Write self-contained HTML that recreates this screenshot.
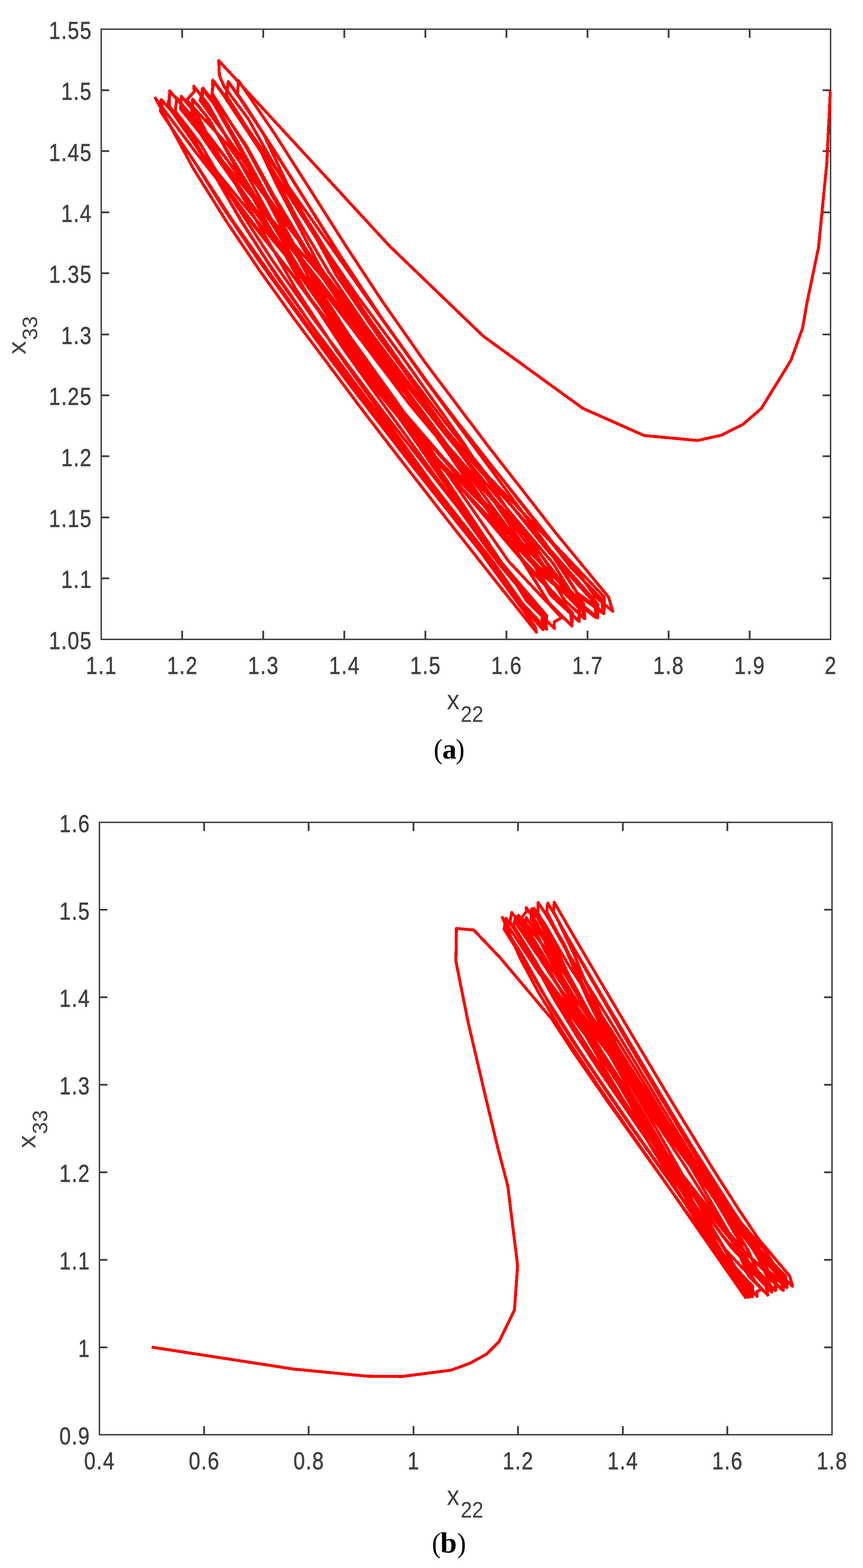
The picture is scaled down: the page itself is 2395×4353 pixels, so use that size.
<!DOCTYPE html>
<html lang="en">
<head>
<meta charset="utf-8">
<title>Phase portraits of x22 and x33</title>
<style>
html,body{margin:0;padding:0;background:#fff;}
body{width:2395px;height:4353px;overflow:hidden;}
svg{display:block;}
</style>
</head>
<body>
<svg width="2395" height="4353" viewBox="0 0 2395 4353" font-family="'Liberation Sans', Arial, sans-serif" fill="#404040">
<rect width="2395" height="4353" fill="#fff"/>
<g id="axes-a">
<rect x="281" y="81" width="2024" height="1694" fill="none" stroke="#404040" stroke-width="4"/>
<rect x="503" y="1751" width="5" height="24" stroke="none"/>
<rect x="503" y="81" width="5" height="24" stroke="none"/>
<rect x="728" y="1751" width="5" height="24" stroke="none"/>
<rect x="728" y="81" width="5" height="24" stroke="none"/>
<rect x="953" y="1751" width="5" height="24" stroke="none"/>
<rect x="953" y="81" width="5" height="24" stroke="none"/>
<rect x="1178" y="1751" width="5" height="24" stroke="none"/>
<rect x="1178" y="81" width="5" height="24" stroke="none"/>
<rect x="1403" y="1751" width="5" height="24" stroke="none"/>
<rect x="1403" y="81" width="5" height="24" stroke="none"/>
<rect x="1628" y="1751" width="5" height="24" stroke="none"/>
<rect x="1628" y="81" width="5" height="24" stroke="none"/>
<rect x="1853" y="1751" width="5" height="24" stroke="none"/>
<rect x="1853" y="81" width="5" height="24" stroke="none"/>
<rect x="2078" y="1751" width="5" height="24" stroke="none"/>
<rect x="2078" y="81" width="5" height="24" stroke="none"/>
<rect x="281" y="1603" width="22" height="5" stroke="none"/>
<rect x="2283" y="1603" width="22" height="5" stroke="none"/>
<rect x="281" y="1434" width="22" height="5" stroke="none"/>
<rect x="2283" y="1434" width="22" height="5" stroke="none"/>
<rect x="281" y="1264" width="22" height="5" stroke="none"/>
<rect x="2283" y="1264" width="22" height="5" stroke="none"/>
<rect x="281" y="1095" width="22" height="5" stroke="none"/>
<rect x="2283" y="1095" width="22" height="5" stroke="none"/>
<rect x="281" y="926" width="22" height="5" stroke="none"/>
<rect x="2283" y="926" width="22" height="5" stroke="none"/>
<rect x="281" y="756" width="22" height="5" stroke="none"/>
<rect x="2283" y="756" width="22" height="5" stroke="none"/>
<rect x="281" y="587" width="22" height="5" stroke="none"/>
<rect x="2283" y="587" width="22" height="5" stroke="none"/>
<rect x="281" y="417" width="22" height="5" stroke="none"/>
<rect x="2283" y="417" width="22" height="5" stroke="none"/>
<rect x="281" y="248" width="22" height="5" stroke="none"/>
<rect x="2283" y="248" width="22" height="5" stroke="none"/>
<text transform="translate(281.65,1871.00) scale(1,1.21)" font-size="57.0" letter-spacing="2.3" text-anchor="middle" stroke="#404040" stroke-width="0.8" >1.1</text>
<text transform="translate(506.54,1871.00) scale(1,1.21)" font-size="57.0" letter-spacing="2.3" text-anchor="middle" stroke="#404040" stroke-width="0.8" >1.2</text>
<text transform="translate(731.43,1871.00) scale(1,1.21)" font-size="57.0" letter-spacing="2.3" text-anchor="middle" stroke="#404040" stroke-width="0.8" >1.3</text>
<text transform="translate(956.32,1871.00) scale(1,1.21)" font-size="57.0" letter-spacing="2.3" text-anchor="middle" stroke="#404040" stroke-width="0.8" >1.4</text>
<text transform="translate(1181.21,1871.00) scale(1,1.21)" font-size="57.0" letter-spacing="2.3" text-anchor="middle" stroke="#404040" stroke-width="0.8" >1.5</text>
<text transform="translate(1406.09,1871.00) scale(1,1.21)" font-size="57.0" letter-spacing="2.3" text-anchor="middle" stroke="#404040" stroke-width="0.8" >1.6</text>
<text transform="translate(1630.98,1871.00) scale(1,1.21)" font-size="57.0" letter-spacing="2.3" text-anchor="middle" stroke="#404040" stroke-width="0.8" >1.7</text>
<text transform="translate(1855.87,1871.00) scale(1,1.21)" font-size="57.0" letter-spacing="2.3" text-anchor="middle" stroke="#404040" stroke-width="0.8" >1.8</text>
<text transform="translate(2080.76,1871.00) scale(1,1.21)" font-size="57.0" letter-spacing="2.3" text-anchor="middle" stroke="#404040" stroke-width="0.8" >1.9</text>
<text transform="translate(2305.65,1871.00) scale(1,1.21)" font-size="57.0" letter-spacing="2.3" text-anchor="middle" stroke="#404040" stroke-width="0.8" >2</text>
<text transform="translate(255.80,1801.70) scale(1,1.21)" font-size="57.0" letter-spacing="2.3" text-anchor="end" stroke="#404040" stroke-width="0.8" >1.05</text>
<text transform="translate(255.80,1632.30) scale(1,1.21)" font-size="57.0" letter-spacing="2.3" text-anchor="end" stroke="#404040" stroke-width="0.8" >1.1</text>
<text transform="translate(255.80,1462.90) scale(1,1.21)" font-size="57.0" letter-spacing="2.3" text-anchor="end" stroke="#404040" stroke-width="0.8" >1.15</text>
<text transform="translate(255.80,1293.50) scale(1,1.21)" font-size="57.0" letter-spacing="2.3" text-anchor="end" stroke="#404040" stroke-width="0.8" >1.2</text>
<text transform="translate(255.80,1124.10) scale(1,1.21)" font-size="57.0" letter-spacing="2.3" text-anchor="end" stroke="#404040" stroke-width="0.8" >1.25</text>
<text transform="translate(255.80,954.70) scale(1,1.21)" font-size="57.0" letter-spacing="2.3" text-anchor="end" stroke="#404040" stroke-width="0.8" >1.3</text>
<text transform="translate(255.80,785.30) scale(1,1.21)" font-size="57.0" letter-spacing="2.3" text-anchor="end" stroke="#404040" stroke-width="0.8" >1.35</text>
<text transform="translate(255.80,615.90) scale(1,1.21)" font-size="57.0" letter-spacing="2.3" text-anchor="end" stroke="#404040" stroke-width="0.8" >1.4</text>
<text transform="translate(255.80,446.50) scale(1,1.21)" font-size="57.0" letter-spacing="2.3" text-anchor="end" stroke="#404040" stroke-width="0.8" >1.45</text>
<text transform="translate(255.80,277.10) scale(1,1.21)" font-size="57.0" letter-spacing="2.3" text-anchor="end" stroke="#404040" stroke-width="0.8" >1.5</text>
<text transform="translate(255.80,107.70) scale(1,1.21)" font-size="57.0" letter-spacing="2.3" text-anchor="end" stroke="#404040" stroke-width="0.8" >1.55</text>
</g>
<g id="axes-b">
<rect x="276" y="2283" width="2033" height="1700" fill="none" stroke="#404040" stroke-width="4"/>
<rect x="564" y="3959" width="5" height="24" stroke="none"/>
<rect x="564" y="2283" width="5" height="24" stroke="none"/>
<rect x="854" y="3959" width="5" height="24" stroke="none"/>
<rect x="854" y="2283" width="5" height="24" stroke="none"/>
<rect x="1145" y="3959" width="5" height="24" stroke="none"/>
<rect x="1145" y="2283" width="5" height="24" stroke="none"/>
<rect x="1435" y="3959" width="5" height="24" stroke="none"/>
<rect x="1435" y="2283" width="5" height="24" stroke="none"/>
<rect x="1726" y="3959" width="5" height="24" stroke="none"/>
<rect x="1726" y="2283" width="5" height="24" stroke="none"/>
<rect x="2016" y="3959" width="5" height="24" stroke="none"/>
<rect x="2016" y="2283" width="5" height="24" stroke="none"/>
<rect x="276" y="3738" width="22" height="5" stroke="none"/>
<rect x="2287" y="3738" width="22" height="5" stroke="none"/>
<rect x="276" y="3495" width="22" height="5" stroke="none"/>
<rect x="2287" y="3495" width="22" height="5" stroke="none"/>
<rect x="276" y="3252" width="22" height="5" stroke="none"/>
<rect x="2287" y="3252" width="22" height="5" stroke="none"/>
<rect x="276" y="3009" width="22" height="5" stroke="none"/>
<rect x="2287" y="3009" width="22" height="5" stroke="none"/>
<rect x="276" y="2766" width="22" height="5" stroke="none"/>
<rect x="2287" y="2766" width="22" height="5" stroke="none"/>
<rect x="276" y="2523" width="22" height="5" stroke="none"/>
<rect x="2287" y="2523" width="22" height="5" stroke="none"/>
<text transform="translate(276.65,4079.00) scale(1,1.21)" font-size="57.0" letter-spacing="2.3" text-anchor="middle" stroke="#404040" stroke-width="0.8" >0.4</text>
<text transform="translate(567.08,4079.00) scale(1,1.21)" font-size="57.0" letter-spacing="2.3" text-anchor="middle" stroke="#404040" stroke-width="0.8" >0.6</text>
<text transform="translate(857.51,4079.00) scale(1,1.21)" font-size="57.0" letter-spacing="2.3" text-anchor="middle" stroke="#404040" stroke-width="0.8" >0.8</text>
<text transform="translate(1147.94,4079.00) scale(1,1.21)" font-size="57.0" letter-spacing="2.3" text-anchor="middle" stroke="#404040" stroke-width="0.8" >1</text>
<text transform="translate(1438.36,4079.00) scale(1,1.21)" font-size="57.0" letter-spacing="2.3" text-anchor="middle" stroke="#404040" stroke-width="0.8" >1.2</text>
<text transform="translate(1728.79,4079.00) scale(1,1.21)" font-size="57.0" letter-spacing="2.3" text-anchor="middle" stroke="#404040" stroke-width="0.8" >1.4</text>
<text transform="translate(2019.22,4079.00) scale(1,1.21)" font-size="57.0" letter-spacing="2.3" text-anchor="middle" stroke="#404040" stroke-width="0.8" >1.6</text>
<text transform="translate(2309.65,4079.00) scale(1,1.21)" font-size="57.0" letter-spacing="2.3" text-anchor="middle" stroke="#404040" stroke-width="0.8" >1.8</text>
<text transform="translate(250.80,4009.70) scale(1,1.21)" font-size="57.0" letter-spacing="2.3" text-anchor="end" stroke="#404040" stroke-width="0.8" >0.9</text>
<text transform="translate(250.80,3766.84) scale(1,1.21)" font-size="57.0" letter-spacing="2.3" text-anchor="end" stroke="#404040" stroke-width="0.8" >1</text>
<text transform="translate(250.80,3523.99) scale(1,1.21)" font-size="57.0" letter-spacing="2.3" text-anchor="end" stroke="#404040" stroke-width="0.8" >1.1</text>
<text transform="translate(250.80,3281.13) scale(1,1.21)" font-size="57.0" letter-spacing="2.3" text-anchor="end" stroke="#404040" stroke-width="0.8" >1.2</text>
<text transform="translate(250.80,3038.27) scale(1,1.21)" font-size="57.0" letter-spacing="2.3" text-anchor="end" stroke="#404040" stroke-width="0.8" >1.3</text>
<text transform="translate(250.80,2795.41) scale(1,1.21)" font-size="57.0" letter-spacing="2.3" text-anchor="end" stroke="#404040" stroke-width="0.8" >1.4</text>
<text transform="translate(250.80,2552.56) scale(1,1.21)" font-size="57.0" letter-spacing="2.3" text-anchor="end" stroke="#404040" stroke-width="0.8" >1.5</text>
<text transform="translate(250.80,2309.70) scale(1,1.21)" font-size="57.0" letter-spacing="2.3" text-anchor="end" stroke="#404040" stroke-width="0.8" >1.6</text>
</g>
<defs><clipPath id="clipA"><rect x="279" y="79" width="2028.6" height="1698"/></clipPath><clipPath id="clipB"><rect x="274" y="2281" width="2037.6" height="1704"/></clipPath></defs>
<g id="curves" fill="none" stroke="#ff0000" stroke-width="8.2" shape-rendering="crispEdges" stroke-linejoin="round" stroke-linecap="butt">
<polyline points="2304.5,250.0 2294.5,454.0 2271.7,686.0 2237.7,850.0 2227.4,911.0 2194.7,1001.0 2112.8,1134.0 2062.0,1178.0 2002.0,1208.2 1935.8,1222.9 1787.5,1209.0 1617.3,1133.5 1341.6,933.6 1082.0,684.0 606.9,168.0 608.9,210.0 621.9,240.0 689.2,330.5 801.4,529.1 911.9,705.5 988.9,817.9 1106.1,976.5 1284.8,1227.6 1359.9,1341.6 1474.0,1513.6 1566.5,1666.6 1623.3,1717.1 1619.3,1674.7 1489.4,1552.3 1318.8,1379.7 1207.6,1268.6 1029.8,1062.6 898.9,878.1 803.8,751.8 662.5,574.0 543.6,423.2 431.2,272.4 536.6,468.2 628.4,614.9 719.7,749.7 817.3,886.3 1000.3,1131.1 1096.0,1255.8 1241.4,1443.0 1382.2,1621.8 1488.8,1755.2 1484.8,1739.2 1350.3,1555.0 1258.3,1425.6 1105.7,1212.7 991.7,1055.5 930.5,969.5 821.3,802.9 721.8,630.6 585.6,392.3 549.6,322.8 503.2,267.5 501.1,302.5 607.3,434.4 725.2,577.3 859.9,728.0 1008.9,909.0 1131.3,1072.0 1294.5,1260.2 1422.8,1393.4 1592.0,1571.0 1651.0,1655.6 1700.5,1697.0 1688.9,1657.8 1542.6,1479.9 1440.7,1348.9 1352.9,1236.3 1180.0,1006.5 1059.5,834.4 956.9,678.2 874.9,548.8 763.0,372.7 662.0,224.1 659.0,260.1 732.5,374.7 800.6,518.6 932.9,763.3 1054.9,940.7 1111.0,1015.6 1278.2,1250.3 1361.8,1377.5 1454.8,1517.8 1527.5,1651.6 1606.3,1724.5 1607.4,1681.8 1511.1,1600.5 1303.6,1378.7 1188.0,1257.6 1012.5,1044.5 891.5,873.1 807.9,759.0 653.2,554.7 583.5,462.0 476.6,309.0 447.7,276.6 445.3,308.9 544.7,456.9 617.5,574.1 718.8,724.2 894.4,966.6 976.1,1075.5 1149.8,1300.3 1272.6,1455.4 1361.2,1566.4 1451.5,1686.8 1506.8,1747.8 1503.6,1707.4 1382.9,1563.5 1247.6,1362.9 1163.0,1238.8 1052.0,1081.3 917.5,891.0 844.6,773.9 748.5,599.7 618.8,363.8 577.6,290.1 537.7,239.3 539.1,254.1 517.9,278.0 630.2,400.1 757.5,575.9 840.8,682.1 1010.8,901.1 1134.4,1065.8 1219.6,1172.1 1404.3,1386.6 1530.7,1531.1 1606.8,1654.1 1675.1,1703.4 1669.1,1662.3 1585.0,1576.5 1412.2,1353.8 1263.0,1163.2 1192.9,1070.2 1062.7,888.2 946.2,712.6 860.5,576.6 756.0,409.6 676.2,285.3 633.4,226.6 628.5,264.6 726.9,426.7 771.0,519.4 888.9,741.9 1009.6,923.4 1100.6,1044.9 1213.6,1201.1 1365.1,1427.3 1440.1,1538.2 1528.2,1681.6 1587.3,1737.2 1582.7,1696.2 1472.6,1583.4 1292.7,1370.8 1186.5,1246.1 1027.8,1042.7 960.1,947.4 835.1,768.5 698.0,574.3 566.8,387.8 502.9,289.4 472.9,255.4 466.4,288.6 577.8,456.9 677.1,624.6 741.2,724.5 861.2,897.9 1022.0,1112.8 1135.3,1260.5 1275.6,1441.3 1369.0,1560.3 1449.8,1675.4 1517.4,1746.8 1510.4,1704.9 1408.3,1585.7 1297.3,1423.9 1186.2,1263.4 1035.2,1052.0 972.9,964.3 874.4,817.2 720.5,564.7 625.5,409.3 570.0,318.6 536.6,277.0 532.4,318.5 648.2,466.9 768.9,630.7 878.9,770.3 991.2,916.3 1096.3,1056.9 1228.7,1222.0 1355.2,1367.2 1480.0,1507.6 1573.8,1650.4 1656.1,1715.0 1649.0,1672.9 1516.5,1524.9 1365.8,1336.6 1236.5,1174.2 1113.8,1010.9 1021.7,880.2 949.0,772.1 796.3,534.4 727.3,425.9 619.5,263.0 590.6,222.4 588.9,259.6 682.2,406.8 758.1,548.0 852.3,707.8 1006.9,933.8 1101.2,1059.3 1242.4,1255.7 1328.4,1380.8 1434.5,1533.9 1523.7,1673.8 1587.0,1737.6 1588.9,1701.8 1436.7,1539.2 1299.6,1376.7 1230.0,1294.6 1054.7,1073.1 924.2,888.4 866.3,805.7 738.0,623.4 625.5,462.9 534.3,325.8 490.5,271.7 486.2,308.4 555.4,398.2 654.2,566.8 759.4,727.9 869.6,884.5 1057.8,1136.1 1174.3,1286.4 1242.7,1373.5 1402.8,1575.2 1461.9,1668.6 1538.6,1744.7 1537.6,1726.7 1558.6,1714.7 1411.6,1558.5 1300.0,1397.9 1199.2,1253.9 1093.9,1106.0 968.3,930.4 876.2,786.9 760.2,577.5 659.9,395.0 597.8,289.2 563.5,244.9 555.4,278.7 673.9,441.7 755.1,563.8 901.1,765.4 1008.7,910.3 1116.9,1054.7 1240.2,1211.1 1383.7,1384.0 1535.7,1565.0 1596.8,1663.8 1658.6,1714.8 1658.4,1676.2 1525.4,1525.0 1450.1,1422.0 1302.8,1222.6 1182.8,1059.2 1037.1,852.9 926.8,683.7 858.6,574.6 722.8,358.6 666.3,274.3 633.4,227.1 627.3,263.8 724.1,414.2 821.3,600.8 912.8,755.7 1016.6,907.0 1143.9,1076.6 1252.8,1223.7 1339.3,1342.6 1495.4,1554.7 1568.9,1668.6 1621.4,1717.2 1611.8,1675.4 1523.2,1588.5 1312.0,1358.7 1227.5,1268.2 1104.0,1124.8 929.9,883.7 861.4,793.3 677.1,569.1 562.3,428.6 477.4,309.0 448.5,278.4 450.0,316.1 555.6,473.4 643.3,609.2 770.2,789.4 845.4,892.1 1014.3,1117.9 1154.4,1297.3 1215.3,1373.7 1364.8,1559.4 1437.4,1664.8 1515.0,1745.6 1517.0,1709.2 1392.6,1562.6 1272.5,1382.4 1184.7,1251.9 1071.7,1090.1 954.0,925.2 854.3,765.9 761.3,592.8 691.5,459.7 592.6,287.0 561.0,246.8 562.7,282.9 666.0,433.1 778.6,597.4 890.3,748.0 999.5,893.8 1119.2,1053.7 1263.7,1229.7 1426.0,1411.9 1504.2,1499.1 1600.6,1644.9 1676.3,1700.7 1677.0,1657.5 1536.7,1509.7 1449.3,1399.2 1313.3,1228.8 1193.5,1073.2 1050.9,873.6 955.7,737.7 846.5,583.3 700.5,376.2 631.8,277.1 593.5,225.2 587.7,264.2 684.2,405.5 758.1,539.9 855.1,701.1 952.6,846.8 1106.9,1054.7 1222.1,1209.6 1327.8,1354.6 1463.6,1539.4 1543.9,1664.6 1607.2,1725.2 1608.4,1689.8 1469.1,1546.2 1337.4,1396.9 1163.3,1199.3 1037.7,1038.6 941.5,902.3 831.1,747.6 695.3,562.4 567.7,387.2 518.7,307.3 470.8,252.5 469.9,294.1 544.5,397.7 666.9,610.1 770.3,770.7 906.8,962.2 1022.0,1115.1 1100.6,1218.8 1221.7,1378.3 1353.3,1550.0 1441.7,1674.5 1507.0,1745.2 1507.0,1702.6 1365.1,1540.6 1287.8,1432.6 1163.8,1260.5 1024.9,1069.1 953.9,969.5 847.4,807.0 715.6,573.7 654.9,464.8 580.7,332.0 534.7,275.5 532.1,314.2 625.4,436.4 737.2,596.9 836.1,726.7 984.8,921.9 1135.3,1120.9 1222.8,1226.0 1374.5,1396.1 1479.4,1512.0 1605.0,1676.0 1653.3,1714.8" clip-path="url(#clipA)"/>
<polyline points="421.0,3739.9 814.7,3800.7 1017.3,3820.4 1114.7,3821.5 1251.2,3803.9 1305.2,3784.1 1351.1,3758.7 1384.6,3725.2 1427.7,3637.0 1436.5,3513.5 1409.2,3292.2 1380.7,3183.5 1348.1,3047.6 1299.2,2838.4 1265.2,2668.5 1266.6,2577.5 1314.6,2581.8 1386.5,2657.2 1530.5,2828.0 1591.3,2920.9 1687.7,3060.2 1798.0,3215.0 1908.6,3369.8 2018.7,3524.6 2053.8,3574.9 2075.8,3601.9 2074.9,3572.3 1978.3,3463.0 1897.2,3333.9 1864.7,3279.9 1776.9,3132.6 1686.9,2981.8 1631.7,2885.7 1557.0,2751.7 1522.9,2690.4 1467.4,2580.8 1439.0,2541.2 1435.0,2568.0 1501.4,2665.5 1550.9,2739.6 1644.3,2864.7 1731.7,2982.5 1843.8,3143.0 1927.2,3246.1 1989.3,3317.1 2123.3,3471.5 2167.2,3541.1 2199.2,3570.8 2191.7,3542.7 2105.2,3439.9 2049.8,3357.2 1980.5,3248.7 1871.4,3070.3 1829.1,2999.6 1759.1,2881.9 1657.8,2710.6 1593.6,2601.1 1538.0,2504.7 1536.1,2530.5 1589.7,2641.1 1625.2,2727.4 1710.2,2900.9 1772.9,3001.0 1866.4,3136.8 1937.7,3250.7 1983.2,3328.3 2056.3,3453.4 2088.1,3531.8 2142.1,3587.0 2135.9,3562.2 2075.1,3500.6 1948.9,3342.3 1880.7,3252.9 1803.8,3140.2 1711.5,2987.4 1649.7,2896.0 1574.6,2794.6 1483.1,2671.1 1426.4,2576.9 1404.4,2549.5 1399.0,2579.5 1471.2,2694.4 1504.0,2752.5 1611.1,2920.8 1669.8,3007.3 1760.5,3138.5 1813.7,3214.7 1895.9,3332.6 1982.2,3457.0 2050.1,3560.0 2081.7,3600.1 2076.1,3570.3 2002.5,3487.5 1927.3,3367.1 1849.9,3235.2 1769.6,3099.1 1727.5,3028.8 1636.8,2865.0 1575.6,2741.7 1513.6,2617.7 1490.5,2563.6 1460.4,2519.6 1461.3,2530.3 1447.7,2547.4 1510.9,2630.0 1592.0,2764.6 1685.7,2901.9 1738.4,2977.7 1847.6,3134.8 1915.0,3224.5 1993.3,3324.2 2084.5,3440.3 2130.2,3530.9 2183.8,3574.5 2176.9,3549.0 2111.8,3475.6 2037.3,3366.2 1920.6,3182.6 1868.6,3097.2 1803.7,2988.9 1741.0,2883.5 1656.5,2740.9 1577.8,2607.1 1547.1,2552.0 1520.1,2507.4 1517.3,2530.8 1568.0,2631.0 1632.4,2777.7 1667.4,2847.6 1765.1,3009.4 1855.8,3141.2 1916.2,3237.8 1993.0,3370.9 2034.3,3442.7 2077.8,3542.6 2130.7,3595.3 2124.5,3564.9 2011.7,3438.1 1933.0,3331.9 1845.5,3206.6 1794.2,3126.2 1722.4,3006.5 1638.1,2872.7 1572.4,2773.7 1504.1,2670.3 1441.9,2561.2 1420.1,2533.4 1415.3,2559.0 1478.2,2664.7 1537.8,2773.5 1603.1,2879.9 1668.7,2979.6 1757.6,3108.8 1861.9,3261.7 1944.0,3385.6 1998.3,3467.6 2033.5,3530.1 2088.1,3599.7 2088.9,3570.4 2009.1,3487.7 1922.9,3349.1 1872.6,3263.4 1795.9,3133.0 1713.9,2995.8 1650.2,2885.3 1600.9,2797.7 1511.3,2637.6 1486.6,2585.3 1460.0,2547.0 1458.3,2570.0 1524.2,2678.4 1587.9,2776.8 1685.9,2913.4 1758.9,3016.6 1846.9,3143.4 1907.8,3226.8 2008.2,3359.4 2097.6,3478.4 2128.3,3543.5 2172.3,3582.0 2168.4,3551.6 2059.8,3424.6 1982.0,3307.0 1926.5,3219.3 1853.7,3100.4 1798.7,3008.7 1698.2,2843.1 1620.1,2716.9 1567.3,2630.8 1522.7,2550.6 1493.4,2505.7 1492.7,2533.9 1545.3,2635.8 1604.1,2763.9 1658.8,2867.8 1741.5,3001.1 1829.3,3128.1 1901.5,3237.7 1981.8,3365.7 2026.2,3437.0 2095.4,3557.1 2130.5,3595.6 2127.6,3566.5 2031.3,3465.2 1975.2,3391.0 1870.7,3246.7 1805.7,3147.9 1742.3,3042.8 1667.8,2920.8 1585.9,2793.3 1518.1,2688.0 1452.0,2572.6 1431.1,2544.6 1425.6,2570.9 1488.4,2672.3 1539.3,2763.6 1642.3,2925.6 1678.1,2978.8 1777.7,3123.4 1851.6,3230.6 1935.9,3355.6 1999.8,3450.9 2061.0,3551.6 2101.0,3599.0 2100.4,3586.1 2114.0,3577.5 2011.6,3467.5 1963.0,3385.6 1878.9,3234.4 1819.8,3130.9 1739.4,2996.6 1657.1,2851.6 1597.8,2742.5 1548.6,2652.1 1499.5,2554.8 1476.6,2522.9 1475.3,2548.5 1534.4,2649.1 1620.4,2793.2 1698.8,2910.5 1761.4,3001.8 1829.4,3100.2 1939.3,3254.6 1978.5,3308.7 2068.0,3432.8 2139.5,3550.5 2173.9,3581.9 2172.9,3556.6 2092.3,3467.5 2013.1,3344.9 1949.5,3240.9 1875.9,3118.2 1777.1,2952.9 1732.5,2876.8 1640.0,2716.8 1573.9,2601.7 1546.4,2550.8 1520.2,2507.8 1516.2,2537.8 1564.0,2617.9 1642.2,2784.7 1687.9,2868.6 1751.7,2971.9 1841.0,3101.6 1903.0,3194.1 2000.6,3348.9 2067.0,3455.3 2108.4,3540.6 2151.2,3582.4 2152.0,3552.1 2068.8,3477.9 1940.9,3322.1 1862.7,3220.6 1809.7,3143.0 1738.1,3024.3 1668.2,2916.8 1542.0,2749.5 1493.2,2684.5 1423.2,2573.3 1404.9,2550.8 1402.5,2578.3 1445.6,2645.3 1534.2,2804.2 1587.2,2887.3 1675.9,3019.0 1746.7,3121.5 1826.6,3234.5 1920.6,3365.3 1999.5,3475.5 2041.2,3542.0 2086.6,3598.8 2087.1,3570.2 2004.9,3478.7 1918.3,3327.2 1855.0,3210.6 1801.3,3117.0 1753.3,3037.1 1656.1,2865.2 1607.1,2771.4 1539.7,2642.2 1493.6,2550.6 1475.1,2524.3 1473.7,2550.7 1527.1,2637.7 1616.3,2784.1 1663.6,2853.7 1748.6,2976.1 1855.0,3129.6 1900.6,3192.2 2027.7,3360.1 2106.9,3465.1 2131.7,3527.8 2184.5,3572.6 2179.9,3542.6 2093.1,3452.7 2002.6,3333.2 1922.6,3222.1 1854.0,3117.8 1791.0,3013.0 1700.4,2866.7 1615.4,2736.6 1574.1,2673.1 1511.4,2564.4 1481.6,2522.0 1481.6,2550.6 1544.2,2659.4 1622.6,2794.2 1699.5,2912.3 1764.5,3008.1 1813.4,3078.9 1930.9,3250.9 1979.4,3324.0 2076.2,3470.7 2105.5,3539.4 2152.4,3582.4 2152.4,3557.0 2067.0,3476.4 1934.1,3322.2 1884.1,3261.8 1780.0,3115.5 1718.1,3012.1 1654.4,2914.3 1548.5,2771.0 1494.0,2698.0 1394.1,2547.0 1443.5,2660.2 1494.4,2755.1 1564.5,2870.4 1665.8,3022.9 1754.5,3150.9 1842.5,3276.8 1887.4,3341.2 1982.7,3478.3 2070.8,3604.7" clip-path="url(#clipB)"/>
</g>
<text transform="translate(1240.30,1969.30) scale(1,1.10)" font-size="69.5">x<tspan font-size="56.5" dx="3.5" dy="31.5">22</tspan></text>
<text transform="translate(1240.30,4178.20) scale(1,1.10)" font-size="69.5">x<tspan font-size="56.5" dx="3.5" dy="31.5">22</tspan></text>
<text transform="translate(71.00,983.80) scale(1,1.06) rotate(-90)" font-size="69.5">x<tspan font-size="56.5" dx="2.5" dy="31.5">33</tspan></text>
<text transform="translate(98.20,3187.80) scale(1,1.06) rotate(-90)" font-size="69.5">x<tspan font-size="56.5" dx="2.5" dy="33.0">33</tspan></text>
<g font-family="'Liberation Serif', 'Times New Roman', serif" font-size="83" fill="#000">
<text transform="translate(1203.60,2106.00) scale(0.9,0.935)">(</text>
<text transform="translate(1247.30,2105.50) scale(0.95,0.95)" font-weight="bold" text-anchor="middle">a</text>
<text transform="translate(1289.40,2106.00) scale(0.9,0.935)" text-anchor="end">)</text>
</g>
<g font-family="'Liberation Serif', 'Times New Roman', serif" font-size="83" fill="#000">
<text transform="translate(1198.60,4309.50) scale(0.9,0.935)">(</text>
<text transform="translate(1244.70,4309.50) scale(1.0,0.965)" font-weight="bold" text-anchor="middle">b</text>
<text transform="translate(1293.40,4309.50) scale(0.9,0.935)" text-anchor="end">)</text>
</g>
</svg>
</body>
</html>
